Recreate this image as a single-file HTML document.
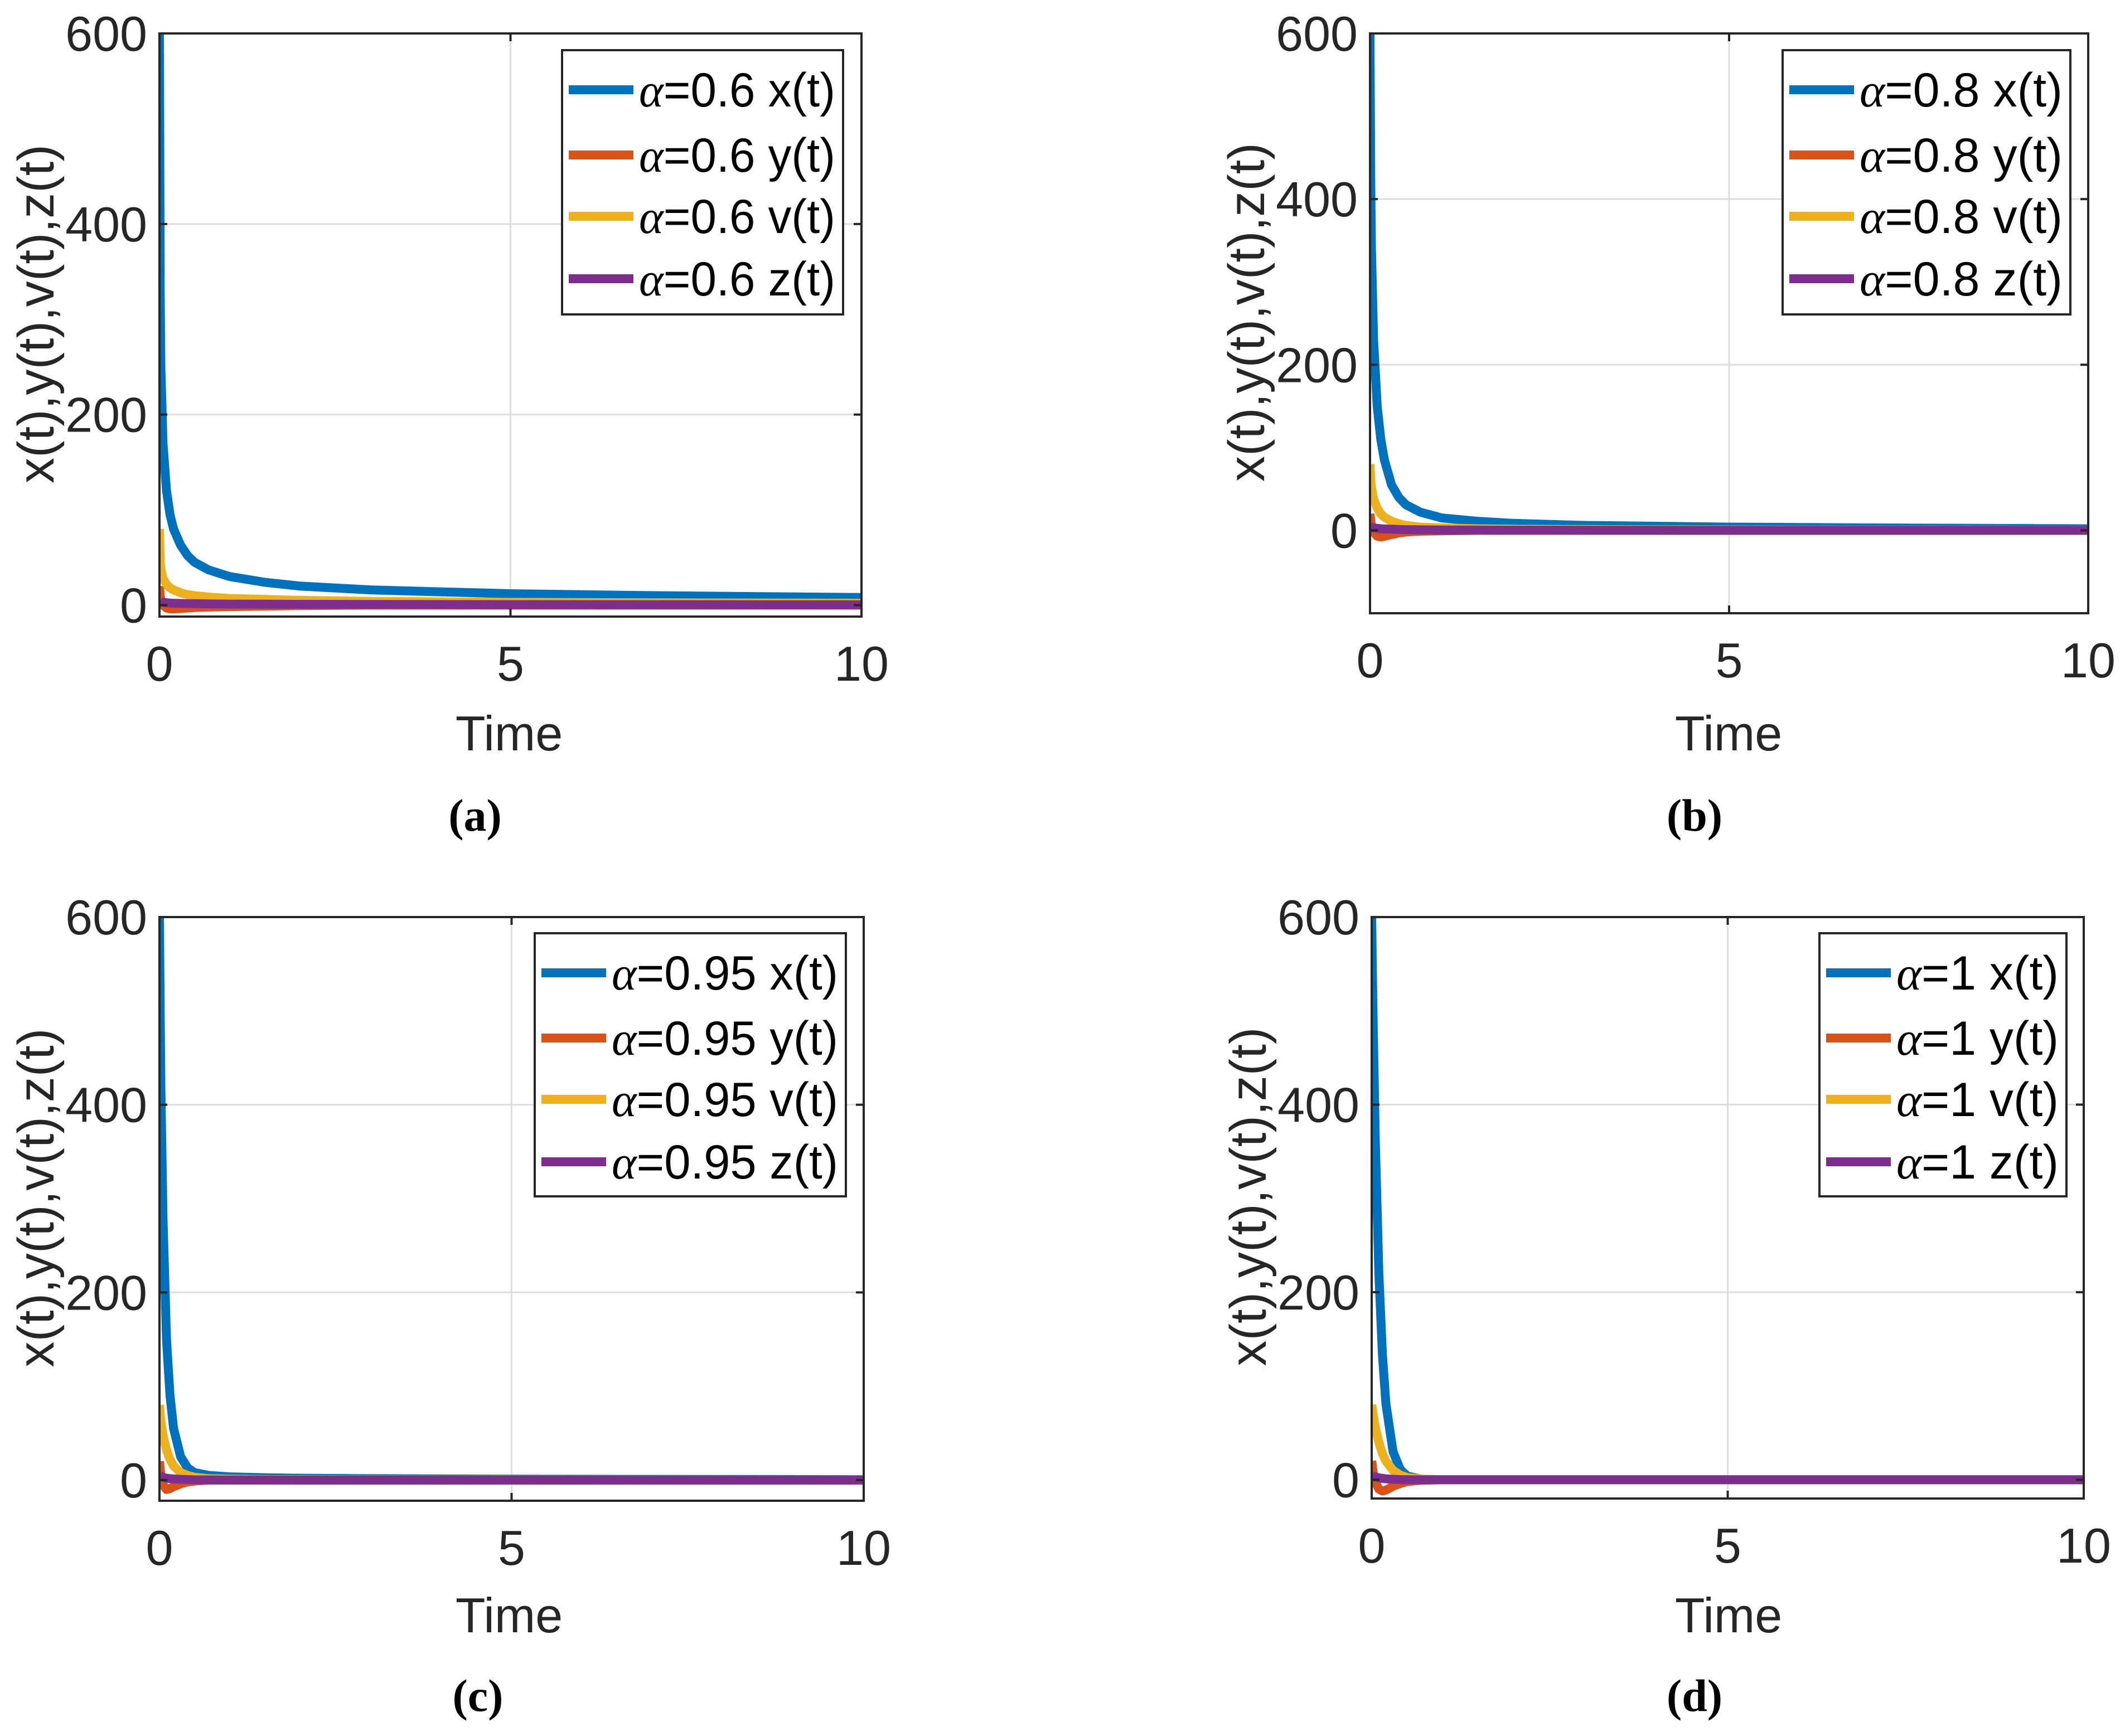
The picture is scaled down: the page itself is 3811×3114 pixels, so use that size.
<!DOCTYPE html>
<html><head><meta charset="utf-8"><style>
html,body{margin:0;padding:0;background:#fff;}
svg{display:block;}
</style></head><body>
<svg id="fig" xmlns="http://www.w3.org/2000/svg" width="3811" height="3114" viewBox="0 0 3811 3114"></svg>
<script>
const times = [0,0.01,0.02,0.05,0.1,0.15,0.2,0.3,0.4,0.5,0.7,1,1.5,2,3,4,5,7,10];
const xTicks = [0,5,10];
const yTicksA = [0,200,400,600];
const yTicksB = [0,200,400,600];
const alphas = ['0.6','0.8','0.95','1'];
const seriesNames = ['x(t)','y(t)','v(t)','z(t)'];
const colors = ['#0072BD','#D95319','#EDB120','#7E2F8E'];
const panelLetters = ['(a)','(b)','(c)','(d)'];

const aX = [600,330,250,170,120,95,80,63,52,45,37,30,24,20,16,14,12,10,8];
const aY = [20,10,5,0,-3,-4,-4,-3.5,-3,-2.5,-2,-1.5,-1,-0.5,0,0,0,0,0];
const aV = [80,45,38,28,22,18,16,13,11,10,8.5,7,6,5,4,3.5,3,2.5,2];
const aZ = [5,4,3.5,3,2.5,2.2,2,1.8,1.6,1.5,1.3,1.1,1,0.9,0.8,0.7,0.6,0.5,0.4];

const bX = [600,420,340,230,150,110,85,55,40,31,22,15,11,8.5,6,5,4,3,2];
const bY = [20,12,6,-2,-7,-8,-7,-5,-3,-2,-1,-0.5,0,0,0,0,0,0,0];
const bV = [80,60,52,38,27,20,16,11,8,6,4,3,2,1.5,1,0.8,0.6,0.4,0.3];
const bZ = [5,4.5,4,3,2.5,2,1.8,1.4,1.1,0.9,0.7,0.5,0.4,0.3,0.2,0.2,0.1,0.1,0.1];

const cX = [600,500,420,280,150,90,55,25,13,8,5,3.5,2.5,2,1.5,1.2,1,0.8,0.5];
const cY = [20,12,5,-5,-10,-9,-7,-4,-2,-1,0,0,0,0,0,0,0,0,0];
const cV = [80,70,62,48,32,22,15,8,5,3,1.5,1,0.6,0.4,0.3,0.2,0.2,0.1,0.1];
const cZ = [5,4.5,4,3,2,1.5,1.2,0.8,0.5,0.3,0.2,0.1,0.1,0,0,0,0,0,0];

const dX = [600,543,491,364,221,134,81,30,11,4,0.5,0,0,0,0,0,0,0,0];
const dY = [20,14,8,-2,-10,-12,-11,-7,-4,-2,-0.5,0,0,0,0,0,0,0,0];
const dV = [80,75,70,56,40,28,20,10,5,2.4,0.6,0,0,0,0,0,0,0,0];
const dZ = [5,4.5,4,3,2,1.5,1,0.5,0.2,0.1,0,0,0,0,0,0,0,0,0];

const panelData = [[aX,aY,aV,aZ],[bX,bY,bV,bZ],[cX,cY,cV,cZ],[dX,dY,dV,dZ]];
const yMins = [-12,-100,-22,-20];
const yMax = 600;
const yTickLists = [yTicksA,[0,200,400,600],yTicksB,yTicksB];

const layout = [
 {L:286,R:1545,T:60,B:1106,leg:[1008,90,504,474],lab:[852,1462],time:[913,1316]},
 {L:2457,R:3745,T:60,B:1100,leg:[3197,90,516,474],lab:[3039,1462],time:[3100,1316]},
 {L:286,R:1549,T:1645,B:2692,leg:[959,1674,558,472],lab:[857,3041],time:[913,2898]},
 {L:2460,R:3737,T:1645,B:2688,leg:[3263,1674,443,472],lab:[3039,3041],time:[3100,2898]}
];

const NS='http://www.w3.org/2000/svg';
const svg=document.getElementById('fig');
function mk(tag,attrs,parent){const e=document.createElementNS(NS,tag);for(const k in attrs)e.setAttribute(k,attrs[k]);(parent||svg).appendChild(e);return e;}
const FONT='"Liberation Sans", Arial, sans-serif';

layout.forEach((p,pi)=>{
  const g=mk('g',{});
  
  
  const ymin=yMins[pi];
  const sx=t=>p.L+(t-0)/(10-0)*(p.R-p.L);
  const sy=v=>p.B-(v-ymin)/(yMax-ymin)*(p.B-p.T);
  xTicks.forEach(t=>{const l=mk('line',{x1:sx(t),x2:sx(t),y1:p.T,y2:p.B,stroke:'#dedede','stroke-width':3},g);
    });
  yTickLists[pi].forEach(v=>{const l=mk('line',{x1:p.L,x2:p.R,y1:sy(v),y2:sy(v),stroke:'#dedede','stroke-width':3},g);
    });
  const cid='clip'+pi;
  const cp=mk('clipPath',{id:cid},g);mk('rect',{x:p.L,y:p.T,width:p.R-p.L,height:p.B-p.T},cp);
  panelData[pi].forEach((arr,si)=>{
    const pts=arr.map((v,i)=>sx(times[i]).toFixed(1)+','+sy(v).toFixed(1)).join(' ');
    const pl=mk('polyline',{points:pts,fill:'none',stroke:colors[si],'stroke-width':16,'stroke-linejoin':'round','clip-path':'url(#'+cid+')'},g);
    
    
  });
  const box=mk('rect',{x:p.L,y:p.T,width:p.R-p.L,height:p.B-p.T,fill:'none',stroke:'#262626','stroke-width':4},g);
  
  xTicks.forEach(t=>{
    mk('line',{x1:sx(t),x2:sx(t),y1:p.B,y2:p.B-14,stroke:'#262626','stroke-width':4},g);
    mk('line',{x1:sx(t),x2:sx(t),y1:p.T,y2:p.T+14,stroke:'#262626','stroke-width':4},g);
    const tx=mk('text',{x:sx(t),y:p.B+115,'text-anchor':'middle','font-family':FONT,'font-size':88,fill:'#262626'},g);
    tx.textContent=t;
  });
  yTickLists[pi].forEach(v=>{
    mk('line',{x1:p.L,x2:p.L+14,y1:sy(v),y2:sy(v),stroke:'#262626','stroke-width':4},g);
    mk('line',{x1:p.R,x2:p.R-14,y1:sy(v),y2:sy(v),stroke:'#262626','stroke-width':4},g);
    const tx=mk('text',{x:p.L-22,y:sy(v)+31,'text-anchor':'end','font-family':FONT,'font-size':88,fill:'#262626'},g);
    tx.textContent=v;
  });
  const xl=mk('text',{x:p.time[0],y:p.time[1]+30,'text-anchor':'middle','font-family':FONT,'font-size':88,fill:'#262626'},g);
  xl.textContent='Time';
  const ycx=p.L-190, ycy=(p.T+p.B)/2-20;
  const yl=mk('text',{x:ycx,y:ycy,'text-anchor':'middle','font-family':FONT,'font-size':92,fill:'#262626',transform:'rotate(-90 '+ycx+' '+ycy+')'},g);
  yl.textContent='x(t),y(t),v(t),z(t)';
  const pl=mk('text',{x:p.lab[0],y:p.lab[1]+28,'text-anchor':'middle','font-family':'"Liberation Serif", serif','font-size':82,'font-weight':'bold',fill:'#000'},g);
  pl.textContent=panelLetters[pi];
  const [lx,ly,lw,lh]=p.leg;
  const lg=mk('g',{},g);
  mk('rect',{x:lx,y:ly,width:lw,height:lh,fill:'#fff',stroke:'#262626','stroke-width':4},lg);
  const offs=[71,188,298,410];
  seriesNames.forEach((s,si)=>{
    const yy=ly+offs[si];
    const e=mk('g',{},lg);
    mk('line',{x1:lx+12,x2:lx+128,y1:yy,y2:yy,stroke:colors[si],'stroke-width':16},e);
    const t=mk('text',{x:lx+138,y:yy+30,'font-family':FONT,'font-size':86,fill:'#000',textLength:lw-152,lengthAdjust:'spacingAndGlyphs'},e);
    const a=document.createElementNS(NS,'tspan');a.setAttribute('font-family','"Liberation Serif", serif');a.setAttribute('font-style','italic');a.textContent='α';t.appendChild(a);
    const r=document.createElementNS(NS,'tspan');r.textContent='='+alphas[pi]+' '+s;t.appendChild(r);
  });
});
</script>
</body></html>
